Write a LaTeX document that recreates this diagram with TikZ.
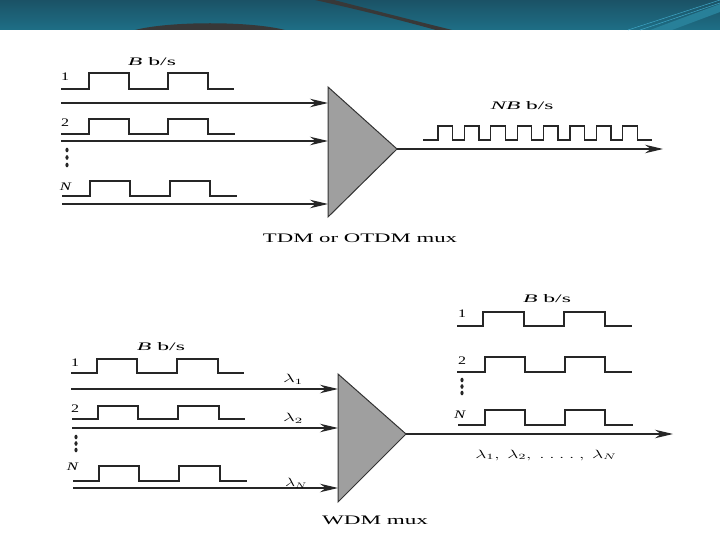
\documentclass[tikz,border=0pt]{standalone}
\usepackage{fontspec}
\setmainfont{Liberation Serif}
\usepackage{graphicx}
\usetikzlibrary{arrows.meta}
\newcommand\fw[2]{\resizebox{#1}{\height}{#2}}
\definecolor{bannertop}{HTML}{1B5266}
\definecolor{bannerbot}{HTML}{1E6F86}
\definecolor{swoosh}{HTML}{383838}
\definecolor{lightline}{HTML}{3FA6C6}
\begin{document}
\begin{tikzpicture}[x=1pt,y=-1pt,
  wave/.style={line width=1.3pt, black!85, line join=miter},
  sig/.style={line width=1.1pt, black!85, -{Stealth[length=18pt,width=8.5pt]}},
  mux/.style={draw=black!80, line width=1pt, fill=gray!75},
  lbl/.style={inner sep=0pt, font=\fontsize{11.5}{12}\selectfont},
  captext/.style={inner sep=0pt, font=\fontsize{13}{14}\selectfont},
  dot/.style={fill=black!85}]
\useasboundingbox (0,0) rectangle (720,540);
% banner
\shade[top color=bannertop, bottom color=bannerbot] (0,0) rectangle (720,30);
\fill[swoosh] (315,0) -- (334,0) .. controls (380,12) and (420,22) .. (452,30) -- (436,30) .. controls (400,20) and (360,10) .. (315,0) -- cycle;
\fill[swoosh] (135,30) .. controls (170,21) and (250,21) .. (285,30) -- cycle;
\fill[bannerbot!70!lightline] (650,30) -- (720,4) -- (720,12) -- (672,30) -- cycle;
\draw[lightline, line width=0.5pt] (628,30) -- (720,0);
\draw[lightline, line width=0.5pt] (640,30) -- (720,3);

% ===== TOP: TDM =====
\node[lbl] (tB) at (152,62) {\fw{48pt}{\textit{B} b/s}};
\node[lbl] (t1) at (65,77) {\fw{8pt}{1}};
\node[lbl] (t2) at (65,123) {\fw{8pt}{2}};
\node[lbl] (tN) at (66,187) {\fw{12pt}{\textit{N}}};
\draw[wave] (61,89) -- (89,89) -- (89,73) -- (129,73) -- (129,89) -- (168,89) -- (168,73) -- (208,73) -- (208,89) -- (234,89);
\draw[wave] (61,134) -- (89,134) -- (89,119) -- (129,119) -- (129,134) -- (168,134) -- (168,119) -- (208,119) -- (208,134) -- (235,134);
\draw[wave] (62,196) -- (90,196) -- (90,181) -- (130,181) -- (130,196) -- (170,196) -- (170,181) -- (210,181) -- (210,196) -- (237,196);
\fill[dot] (67,150) ellipse (1.6 and 2.3);
\fill[dot] (67,157.5) ellipse (1.6 and 2.3);
\fill[dot] (67,165) ellipse (1.6 and 2.3);

\coordinate (tA) at (328,87);
\coordinate (tC) at (328,217);
\coordinate (tO) at (397,149);
\filldraw[mux] (tA) -- (tO) -- (tC) -- cycle;
\coordinate (ti1) at (61,103);
\coordinate (ti2) at (61,141);
\coordinate (tiN) at (62,204);
\draw[sig] (ti1) -- (ti1 -| tA);
\draw[sig] (ti2) -- (ti2 -| tA);
\draw[sig] (tiN) -- (tiN -| tA);
\coordinate (tout) at (663,149);
\draw[sig] (tO) -- (tout);
\node[lbl] (tNB) at (522,106) {\fw{63pt}{\textit{NB} b/s}};
\draw[wave] (423,140) \foreach \k in {0,...,7}{ -- ({438+26.4*\k},140) -- ({438+26.4*\k},126) -- ({452.5+26.4*\k},126) -- ({452.5+26.4*\k},140)} -- (652,140);
\node[captext] (tcap) at (360,238) {\fw{194pt}{TDM or OTDM mux}};

% ===== BOTTOM: WDM =====
\node[lbl] (bB) at (161,347) {\fw{48pt}{\textit{B} b/s}};
\node[lbl] (b1) at (75,363) {\fw{8pt}{1}};
\node[lbl] (b2) at (75,409) {\fw{8pt}{2}};
\node[lbl] (bN) at (73,467) {\fw{12pt}{\textit{N}}};
\draw[wave] (71,373) -- (97,373) -- (97,359) -- (137,359) -- (137,373) -- (177,373) -- (177,359) -- (218,359) -- (218,373) -- (244,373);
\draw[wave] (72,419) -- (98,419) -- (98,406) -- (138,406) -- (138,419) -- (178,419) -- (178,406) -- (219,406) -- (219,419) -- (245,419);
\draw[wave] (73,481) -- (99,481) -- (99,466) -- (139,466) -- (139,481) -- (179,481) -- (179,466) -- (220,466) -- (220,481) -- (247,481);
\fill[dot] (76,437) ellipse (1.6 and 2.3);
\fill[dot] (76,443.5) ellipse (1.6 and 2.3);
\fill[dot] (76,450) ellipse (1.6 and 2.3);

\coordinate (bA) at (338,374);
\coordinate (bC) at (338,502);
\coordinate (bO) at (406,434);
\filldraw[mux] (bA) -- (bO) -- (bC) -- cycle;
\coordinate (bi1) at (71,389);
\coordinate (bi2) at (72,428);
\coordinate (biN) at (73,488);
\draw[sig] (bi1) -- (bi1 -| bA);
\draw[sig] (bi2) -- (bi2 -| bA);
\draw[sig] (biN) -- (biN -| bA);
\node[lbl] (l1) at (293,379) {\fw{20pt}{$\lambda_1$}};
\node[lbl] (l2) at (293,418) {\fw{20pt}{$\lambda_2$}};
\node[lbl] (lN) at (296,483) {\fw{22pt}{$\lambda_N$}};
\coordinate (bout) at (673,434);
\draw[sig] (bO) -- (bout);
\node[lbl] (lall) at (546,455) {\fw{141pt}{$\lambda_1,\ \lambda_2,\ .\ .\ .\ .\ ,\ \lambda_N$}};
\node[captext] (bcap) at (375,520) {\fw{106pt}{WDM mux}};

\node[lbl] (rB) at (547,299) {\fw{48pt}{\textit{B} b/s}};
\node[lbl] (r1) at (462,314) {\fw{8pt}{1}};
\node[lbl] (r2) at (462,361) {\fw{8pt}{2}};
\node[lbl] (rN) at (460,415) {\fw{12pt}{\textit{N}}};
\draw[wave] (457,326) -- (483,326) -- (483,312) -- (524,312) -- (524,326) -- (564,326) -- (564,312) -- (605,312) -- (605,326) -- (632,326);
\draw[wave] (457,372) -- (485,372) -- (485,357) -- (525,357) -- (525,372) -- (565,372) -- (565,357) -- (605,357) -- (605,372) -- (632,372);
\draw[wave] (458,425) -- (485,425) -- (485,410) -- (525,410) -- (525,425) -- (565,425) -- (565,410) -- (605,410) -- (605,425) -- (633,425);
\fill[dot] (462,380) ellipse (1.6 and 2.3);
\fill[dot] (462,386.5) ellipse (1.6 and 2.3);
\fill[dot] (462,393) ellipse (1.6 and 2.3);
\end{tikzpicture}
\end{document}
